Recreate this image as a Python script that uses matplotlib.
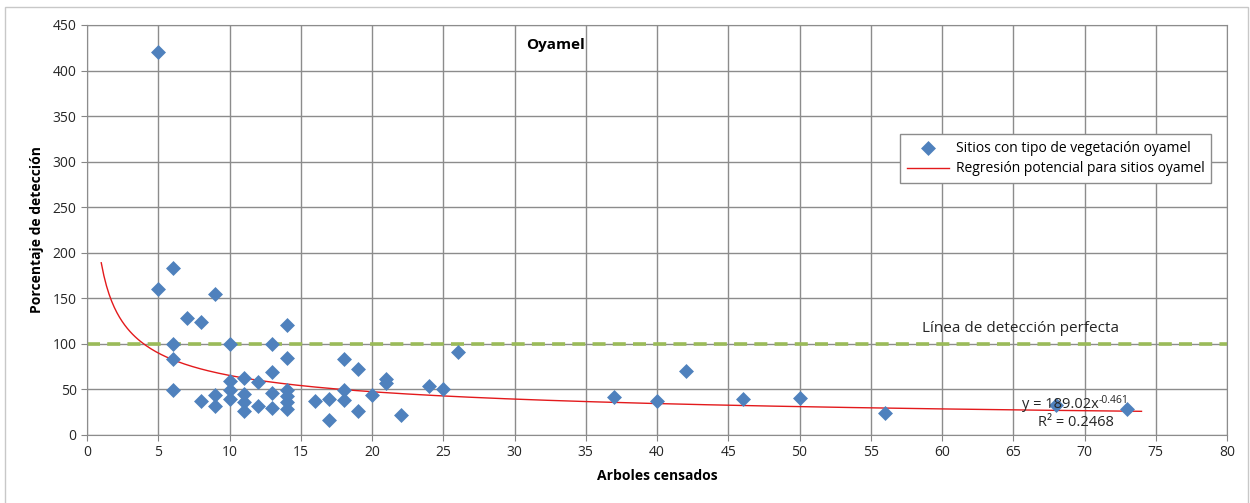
""" Scatter of detection percentage against counted trees for oyamel sites. """

import numpy as np
import matplotlib
matplotlib.use('Agg')
import matplotlib.pyplot as plt
from matplotlib.patches import Rectangle


# Trees counted per site and detection percentage
arboles = [5, 5, 6, 6, 6, 6, 7, 8, 8, 9, 9, 9,
           10, 10, 10, 10, 11, 11, 11, 11, 12, 12,
           13, 13, 13, 13, 14, 14, 14, 14, 14, 14,
           16, 17, 17, 18, 18, 18, 19, 19, 20, 21, 21, 22,
           24, 25, 26, 37, 40, 42, 46, 50, 56, 68, 73]
deteccion = [420, 160, 183, 100, 83, 49, 128, 124, 37, 155, 44, 32,
             100, 59, 49, 39, 63, 45, 36, 26, 58, 32,
             100, 69, 46, 30, 121, 85, 49, 43, 36, 28,
             37, 40, 17, 83, 49, 38, 72, 26, 44, 61, 57, 22,
             54, 50, 91, 42, 37, 70, 40, 41, 24, 33, 29]

# Power trend line y = a * x^b
coef_a = 189.02
coef_b = -0.461
r2 = 0.2468
x_trend = (1, 74)

deteccion_perfecta = 100

plt.rcParams['font.family'] = ['Open Sans', 'DejaVu Sans']

fig = plt.figure(figsize=(12.5, 5.03), dpi=100)
ax = fig.add_axes([87 / 1250, 1 - 435 / 503, 1140 / 1250, 410 / 503])

# Chart border
fig.patches.append(Rectangle((5 / 1250, -0.01), 1243 / 1250, 1 - 7 / 503 + 0.01,
                             transform=fig.transFigure, fill=False,
                             edgecolor='#c8c8c8', linewidth=1))

# Sites
ax.scatter(arboles, deteccion, marker='D', s=58, color='#4f81bd', zorder=4,
           linewidths=0, label='Sitios con tipo de vegetación oyamel')

# Power regression
xr = np.linspace(x_trend[0], x_trend[1], 400)
ax.plot(xr, coef_a * xr ** coef_b, color='#e31a1c', linewidth=1, zorder=3,
        label='Regresión potencial para sitios oyamel')

# Perfect detection line
ax.axhline(deteccion_perfecta, color='#9bbb59', linewidth=2.6, dashes=(3.6, 2.0), zorder=2)
ax.text(65.5, 117, 'Línea de detección perfecta', fontsize=11, ha='center', va='center',
        color='#262626')

ax.text(32.9, 428, 'Oyamel', fontsize=11, fontweight='bold', ha='center', va='center')

# Trend line equation, exponent as a separate superscript
eq = ax.text(68.3, 33, 'y = %.2fx' % coef_a, fontsize=10.5, ha='center',
             va='center', color='#262626', zorder=5)
ax.annotate('%.3f' % coef_b, xy=(1, 0.78), xycoords=eq, fontsize=7.5,
            ha='left', va='center', color='#262626', zorder=5)
ax.text(69.4, 14, 'R² = %.4f' % r2, fontsize=10.5, ha='center', va='center', color='#262626')

ax.set_xlim(0, 80)
ax.set_ylim(0, 450)
ax.set_xticks(np.arange(0, 81, 5))
ax.set_yticks(np.arange(0, 451, 50))
ax.tick_params(labelsize=10, length=4, color='#868686', labelcolor='#262626')

ax.grid(color='#8c8c8c', linewidth=1, zorder=0)
ax.set_axisbelow(True)
for s in ax.spines.values():
    s.set_color('#8c8c8c')

ax.set_xlabel('Arboles censados', fontsize=10, fontweight='bold', labelpad=6)
ax.set_ylabel('Porcentaje de detección', fontsize=10, fontweight='bold', labelpad=6)

leg = ax.legend(loc='upper left', bbox_to_anchor=(806 / 1140, 1 - 102 / 410), fontsize=10,
                frameon=True, fancybox=False, edgecolor='#8c8c8c', framealpha=1,
                borderpad=0.5, handlelength=3, handletextpad=0.5, labelspacing=0.4)
leg.get_frame().set_linewidth(1)

fig.savefig('out.png', dpi=100)
